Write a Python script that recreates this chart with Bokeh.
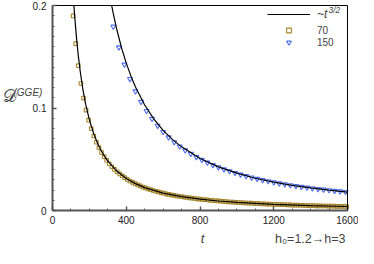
from bokeh.plotting import figure
from bokeh.models import (Range1d, SingleIntervalTicker, FixedTicker, LinearAxis, Label,
                          Legend, LegendItem)
from bokeh.embed import file_html
from bokeh.resources import INLINE

# ---- data ----
t_70 = [112, 126, 140, 154, 168, 182, 196, 210, 224, 238, 252, 266, 280, 294, 308, 322,
        336, 350, 364, 378, 392, 406, 420, 434, 448, 462, 476, 490, 504, 518, 532, 546,
        560, 574, 588, 602, 616, 630, 644, 658, 672, 686, 700, 714, 728, 742, 756, 770,
        784, 798, 812, 826, 840, 854, 868, 882, 896, 910, 924, 938, 952, 966, 980, 994,
        1008, 1022, 1036, 1050, 1064, 1078, 1092, 1106, 1120, 1134, 1148, 1162, 1176, 1190,
        1204, 1218, 1232, 1246, 1260, 1274, 1288, 1302, 1316, 1330, 1344, 1358, 1372, 1386,
        1400, 1414, 1428, 1442, 1456, 1470, 1484, 1498, 1512, 1526, 1540, 1554, 1568, 1582, 1596]
d_70 = [0.1898, 0.1628, 0.1413, 0.1239, 0.1097, 0.0980, 0.0881, 0.0798, 0.0727, 0.0666,
        0.0613, 0.0566, 0.0525, 0.0489, 0.0456, 0.0427, 0.0401, 0.0378, 0.0357, 0.0337,
        0.0320, 0.0303, 0.0288, 0.0275, 0.0262, 0.0250, 0.0240, 0.0229, 0.0220, 0.0211,
        0.0203, 0.0195, 0.0188, 0.0181, 0.0175, 0.0169, 0.0163, 0.0158, 0.0153, 0.0148,
        0.0143, 0.0139, 0.0135, 0.0131, 0.0127, 0.0124, 0.0120, 0.0117, 0.0114, 0.0111,
        0.0108, 0.0105, 0.0103, 0.0100, 0.0098, 0.0095, 0.0093, 0.0091, 0.0089, 0.0087,
        0.0085, 0.0083, 0.0081, 0.0080, 0.0078, 0.0077, 0.0075, 0.0073, 0.0072, 0.0071,
        0.0069, 0.0068, 0.0067, 0.0065, 0.0064, 0.0063, 0.0062, 0.0061, 0.0060, 0.0059,
        0.0058, 0.0057, 0.0056, 0.0055, 0.0054, 0.0053, 0.0052, 0.0052, 0.0051, 0.0050,
        0.0049, 0.0048, 0.0048, 0.0047, 0.0046, 0.0046, 0.0045, 0.0044, 0.0044, 0.0043,
        0.0043, 0.0042, 0.0041, 0.0041, 0.0040, 0.0040, 0.0039]

t_150 = [330, 360, 390, 420, 450, 480, 510, 540, 570, 600, 630, 660, 690, 720, 750, 780,
         810, 840, 870, 900, 930, 960, 990, 1020, 1050, 1080, 1110, 1140, 1170, 1200, 1230,
         1260, 1290, 1320, 1350, 1380, 1410, 1440, 1470, 1500, 1530, 1560, 1590]
d_150 = [0.1794, 0.1592, 0.1424, 0.1283, 0.1163, 0.1060, 0.0972, 0.0894, 0.0827, 0.0767,
         0.0714, 0.0667, 0.0625, 0.0587, 0.0553, 0.0522, 0.0494, 0.0468, 0.0444, 0.0422,
         0.0402, 0.0384, 0.0367, 0.0351, 0.0336, 0.0322, 0.0309, 0.0297, 0.0286, 0.0275,
         0.0265, 0.0256, 0.0247, 0.0239, 0.0231, 0.0224, 0.0217, 0.0210, 0.0204, 0.0198,
         0.0192, 0.0187, 0.0181]

# ~t^(-3/2) reference curves (from the top edge)
t_fit_70 = [116, 120, 130, 140, 150, 165, 180, 200, 225, 250, 275, 300, 350, 400, 450,
            500, 600, 700, 800, 900, 1000, 1200, 1400, 1600]
d_fit_70 = [0.2000, 0.1902, 0.1687, 0.1509, 0.1361, 0.1180, 0.1035, 0.0884, 0.0741, 0.0632,
            0.0548, 0.0481, 0.0382, 0.03125, 0.0262, 0.02236, 0.01701, 0.01350, 0.01105,
            0.00926, 0.00791, 0.00601, 0.00477, 0.00391]
t_fit_150 = [321, 330, 350, 375, 400, 425, 450, 500, 550, 600, 650, 700, 800, 900, 1000,
             1100, 1200, 1300, 1400, 1500, 1600]
d_fit_150 = [0.2000, 0.1918, 0.1756, 0.1584, 0.1438, 0.1313, 0.1205, 0.1029, 0.0892, 0.0782,
             0.0694, 0.0621, 0.0508, 0.0426, 0.0364, 0.0315, 0.0277, 0.0245, 0.0220, 0.0198,
             0.0180]

series_labels = ["70", "150"]
fit_label = "~t"
fit_exponent = "3/2"
y_label_main = "\U0001D49F"
y_label_sup = "(GGE)"
x_label = "t"
note = "h\u2080=1.2\u2192h=3"
X_MIN, X_MAX = 0, 1600
Y_MIN, Y_MAX = 0, 0.2

FONT = "Liberation Sans"

# the frame fills the whole canvas; axes are pinned at the data edges
W, H = 358, 248
X0_PX, X1_PX = 52, 347       # pixel columns of t=0 and t=1600
YT_PX, YB_PX = 5, 210        # pixel rows of D=0.2 and D=0
ux = (X_MAX - X_MIN) / (X1_PX - X0_PX)
uy = (Y_MAX - Y_MIN) / (YB_PX - YT_PX)
x_rng = Range1d(X_MIN - X0_PX * ux, X_MAX + (W - X1_PX) * ux)
y_rng = Range1d(Y_MIN - (H - YB_PX) * uy, Y_MAX + YT_PX * uy)

p = figure(width=W, height=H, output_backend="svg", toolbar_location=None,
           x_range=x_rng, y_range=y_rng, min_border=0,
           x_axis_location=None, y_axis_location=None)
p.background_fill_color = "white"
p.border_fill_color = "white"
p.grid.visible = False
p.outline_line_color = None


def style_axis(ax):
    ax.axis_line_color = "#555555"
    ax.axis_line_width = 2
    ax.major_tick_line_color = "#555555"
    ax.minor_tick_line_color = "#555555"
    ax.major_tick_line_width = 1.5
    ax.major_tick_in = 4
    ax.major_tick_out = 0
    ax.minor_tick_in = 2
    ax.minor_tick_out = 0
    ax.major_label_text_font = FONT
    ax.major_label_text_font_size = "10px"
    ax.major_label_text_color = "#222222"


xaxis = LinearAxis(ticker=SingleIntervalTicker(interval=400, num_minor_ticks=4),
                   fixed_location=Y_MIN, bounds=(X_MIN, X_MAX))
style_axis(xaxis)
xaxis.major_label_standoff = 5
yaxis = LinearAxis(ticker=SingleIntervalTicker(interval=0.1, num_minor_ticks=10),
                   fixed_location=X_MIN, bounds=(Y_MIN, Y_MAX),
                   major_label_overrides={0: "0"})
style_axis(yaxis)
yaxis.major_label_standoff = 6

top_axis = LinearAxis(ticker=FixedTicker(ticks=[]), fixed_location=Y_MAX,
                      bounds=(X_MIN, X_MAX), axis_line_color="black", axis_line_width=1)
right_axis = LinearAxis(ticker=FixedTicker(ticks=[]), fixed_location=X_MAX,
                        bounds=(Y_MIN, Y_MAX), axis_line_color="black", axis_line_width=1)
p.add_layout(top_axis, "above")
p.add_layout(right_axis, "right")

r70 = p.scatter(t_70, d_70, marker="square", size=3.6, fill_color=None,
                line_color="#a8872c", line_width=1.1)
r150 = p.scatter(t_150, d_150, marker="inverted_triangle", size=5, fill_color=None,
                 line_color="#4f6ff5", line_width=1.1)
rf1 = p.line(t_fit_70, d_fit_70, line_color="black", line_width=1.2)
rf2 = p.line(t_fit_150, d_fit_150, line_color="black", line_width=1.2)

p.add_layout(xaxis, "below")
p.add_layout(yaxis, "left")

leg1 = Legend(items=[LegendItem(label=fit_label, renderers=[rf1])],
              location=(267, 227), orientation="vertical", padding=0, margin=0,
              glyph_width=43, glyph_height=12, label_standoff=7, label_height=12,
              background_fill_alpha=0, border_line_alpha=0,
              label_text_font=FONT, label_text_font_size="12px",
              label_text_font_style="italic")
leg2 = Legend(items=[LegendItem(label=series_labels[0], renderers=[r70]),
                     LegendItem(label=series_labels[1], renderers=[r150])],
              location=(267, 200), orientation="vertical", padding=0, margin=0, spacing=-1,
              glyph_width=43, glyph_height=12, label_standoff=7, label_height=12,
              background_fill_alpha=0, border_line_alpha=0,
              label_text_font=FONT, label_text_font_size="10px")
p.add_layout(leg1)
p.add_layout(leg2)

p.add_layout(Label(x=328, y=239, x_units="screen", y_units="screen", text=fit_exponent,
                   text_font=FONT, text_font_size="8.5px", text_font_style="italic",
                   text_baseline="alphabetic", text_align="left"))

# y axis label
p.add_layout(Label(x=2, y=152, x_units="screen", y_units="screen", text=y_label_main,
                   text_font=FONT, text_font_size="17px", text_baseline="middle",
                   text_align="left"))
p.add_layout(Label(x=13, y=156, x_units="screen", y_units="screen", text=y_label_sup,
                   text_font=FONT, text_font_size="10px", text_font_style="italic",
                   text_baseline="middle", text_align="left"))

# x axis label and annotation
p.add_layout(Label(x=202, y=10, x_units="screen", y_units="screen", text=x_label,
                   text_font=FONT, text_font_size="13px", text_font_style="italic",
                   text_baseline="middle", text_align="center"))
p.add_layout(Label(x=345, y=10, x_units="screen", y_units="screen", text=note,
                   text_font=FONT, text_font_size="12.5px",
                   text_baseline="middle", text_align="right"))

open("out.html", "w").write(file_html(p, INLINE))
